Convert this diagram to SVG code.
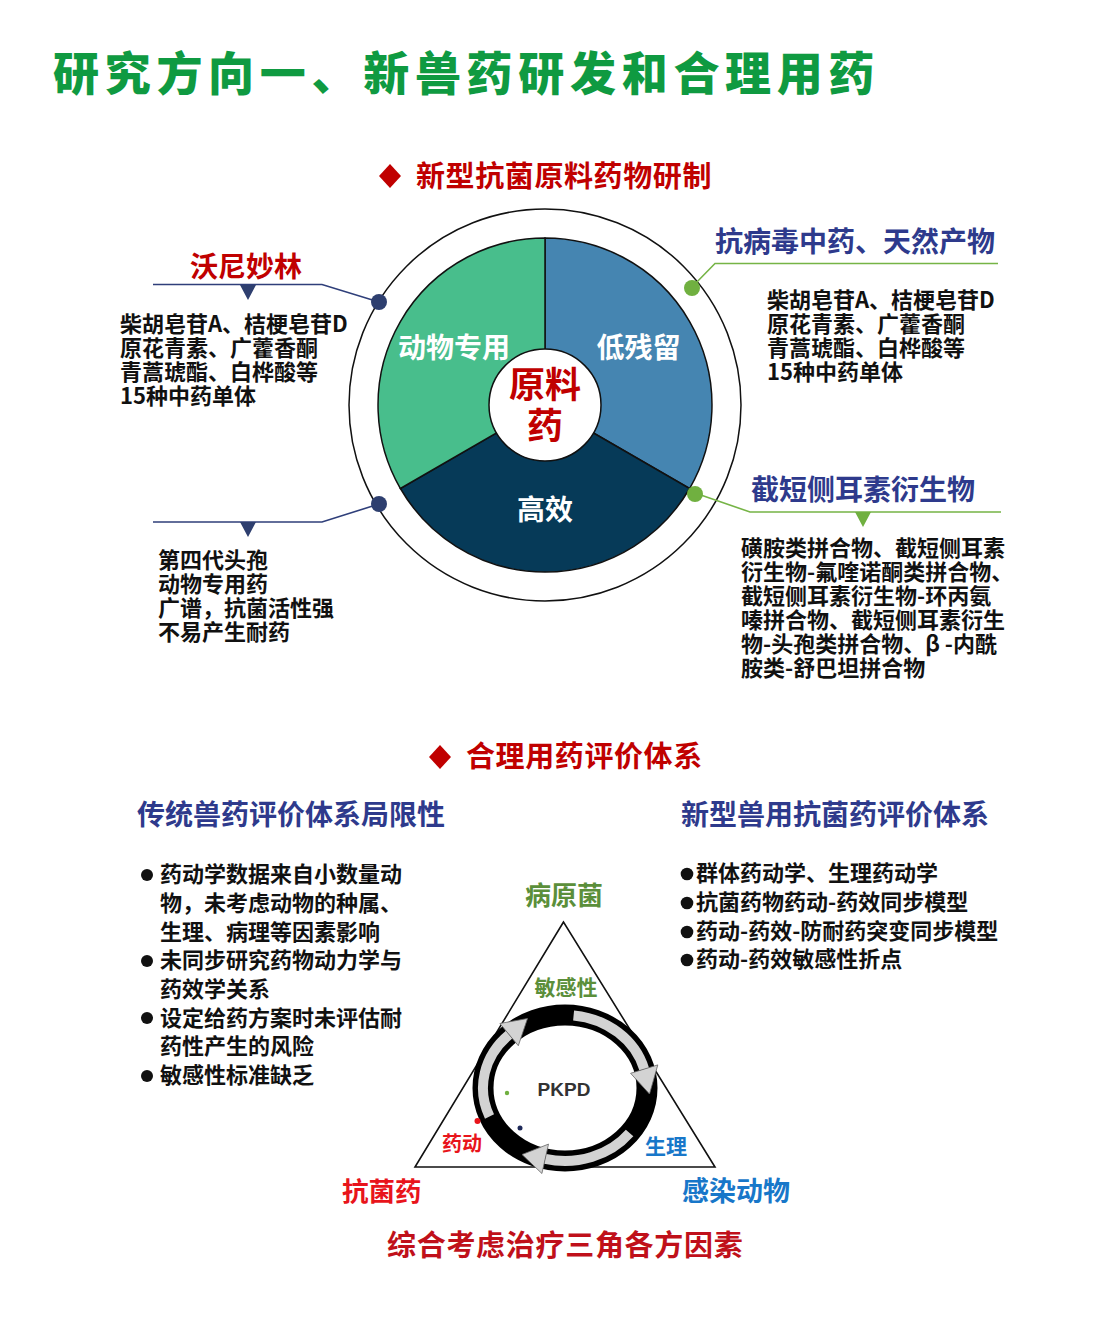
<svg xmlns="http://www.w3.org/2000/svg" width="1100" height="1318" viewBox="0 0 1100 1318">
<style>
text{font-family:"Noto Sans CJK SC","Noto Sans",sans-serif;font-weight:700}
.title{font-size:46px;font-weight:900;fill:#0F9A41;letter-spacing:5.7px}
.sec{font-size:29px;fill:#C00000;letter-spacing:0.6px}
.body{font-size:22px;fill:#111}
.blue{font-size:28px;fill:#2E3A8C}
.red28{font-size:28px;fill:#C00000}
.pie{font-size:28px;fill:#fff}
.core{font-size:36px;fill:#C00000}
.navyline{fill:none;stroke:#2F3F7A;stroke-width:1.6}
.greenline{fill:none;stroke:#76B446;stroke-width:1.6}
.navy{fill:#2E3F6F}
.green{fill:#70B040}
.seg{stroke:#111;stroke-width:1.5}
.gband{fill:none;stroke:#D3D3D3;stroke-width:10}
.ghead{fill:#D3D3D3;stroke:#666;stroke-width:0.8}
</style>
<rect width="1100" height="1318" fill="#fff"/>

<g id="title">
<text class="title" x="53" y="90">研究方向一、新兽药研发和合理用药</text>
</g>

<g id="section1-heading">
<polygon points="390,164 401,176 390,188 379,176" fill="#C00000"/>
<text class="sec" x="416" y="187">新型抗菌原料药物研制</text>
</g>

<g id="outer-ring">
<circle cx="545" cy="405" r="196" fill="none" stroke="#111" stroke-width="1.5"/>
</g>

<g id="seg-residue">
<path class="seg" d="M545,405 L545,238 A167,167 0 0,1 689.6,488.5 Z" fill="#4585B1"/>
<text class="pie" x="638.5" y="358" text-anchor="middle">低残留</text>
</g>
<g id="seg-efficacy">
<path class="seg" d="M545,405 L689.6,488.5 A167,167 0 0,1 400.4,488.5 Z" fill="#063A58"/>
<text class="pie" x="545" y="520" text-anchor="middle">高效</text>
</g>
<g id="seg-animal">
<path class="seg" d="M545,405 L400.4,488.5 A167,167 0 0,1 545,238 Z" fill="#48BE8C"/>
<text class="pie" x="454" y="358" text-anchor="middle">动物专用</text>
</g>
<g id="core">
<circle cx="545" cy="405" r="56" fill="#fff" stroke="#111" stroke-width="1.5"/>
<text class="core" text-anchor="middle"><tspan x="545" y="398">原料</tspan><tspan x="545" y="439">药</tspan></text>
</g>

<g id="connectors">
<polyline class="navyline" points="153,284.5 322,284.5 379,302"/>
<polyline class="navyline" points="153,522 322,522 379,504"/>
<polyline class="greenline" points="998,263.5 715,263.5 692,287"/>
<polyline class="greenline" points="1001,512 750,512 695,493"/>
<circle class="navy" cx="379" cy="302" r="8"/>
<circle class="navy" cx="379" cy="504" r="8"/>
<circle class="green" cx="692" cy="288" r="8"/>
<circle class="green" cx="695" cy="494" r="8"/>
</g>

<g id="node-valnemulin">
<text class="red28" x="246" y="277" text-anchor="middle">沃尼妙林</text>
<polygon class="navy" points="240,285 256,285 248,300"/>
<text class="body"><tspan x="120" y="332">柴胡皂苷A、桔梗皂苷D</tspan><tspan x="120" y="356">原花青素、广藿香酮</tspan><tspan x="120" y="380">青蒿琥酯、白桦酸等</tspan><tspan x="120" y="404">15种中药单体</tspan></text>
</g>

<g id="node-cephalosporin">
<polygon class="navy" points="240,522 256,522 248,537"/>
<text class="body"><tspan x="158" y="568">第四代头孢</tspan><tspan x="158" y="592">动物专用药</tspan><tspan x="158" y="616">广谱，抗菌活性强</tspan><tspan x="158" y="640">不易产生耐药</tspan></text>
</g>

<g id="node-antiviral">
<text class="blue" x="715" y="252">抗病毒中药、天然产物</text>
<text class="body"><tspan x="767" y="308">柴胡皂苷A、桔梗皂苷D</tspan><tspan x="767" y="332">原花青素、广藿香酮</tspan><tspan x="767" y="356">青蒿琥酯、白桦酸等</tspan><tspan x="767" y="380">15种中药单体</tspan></text>
</g>

<g id="node-pleuromutilin">
<text class="blue" x="751" y="500">截短侧耳素衍生物</text>
<polygon class="green" points="855,512 871,512 863,527"/>
<text class="body"><tspan x="741" y="556">磺胺类拼合物、截短侧耳素</tspan><tspan x="741" y="580">衍生物-氟喹诺酮类拼合物、</tspan><tspan x="741" y="604">截短侧耳素衍生物-环丙氨</tspan><tspan x="741" y="628">嗪拼合物、截短侧耳素衍生</tspan><tspan x="741" y="652">物-头孢类拼合物、β -内酰</tspan><tspan x="741" y="676">胺类-舒巴坦拼合物</tspan></text>
</g>

<g id="section2-heading">
<polygon points="440,745 451,757 440,769 429,757" fill="#C00000"/>
<text class="sec" x="466" y="767">合理用药评价体系</text>
</g>

<g id="traditional-system">
<text class="blue" x="137" y="825">传统兽药评价体系局限性</text>
<circle cx="147" cy="875" r="6" fill="#111"/>
<circle cx="147" cy="961" r="6" fill="#111"/>
<circle cx="147" cy="1018" r="6" fill="#111"/>
<circle cx="147" cy="1076" r="6" fill="#111"/>
<text class="body"><tspan x="160" y="882">药动学数据来自小数量动</tspan><tspan x="160" y="911">物，未考虑动物的种属、</tspan><tspan x="160" y="940">生理、病理等因素影响</tspan><tspan x="160" y="968">未同步研究药物动力学与</tspan><tspan x="160" y="997">药效学关系</tspan><tspan x="160" y="1026">设定给药方案时未评估耐</tspan><tspan x="160" y="1054">药性产生的风险</tspan><tspan x="160" y="1083">敏感性标准缺乏</tspan></text>
</g>

<g id="new-system">
<text class="blue" x="681" y="825">新型兽用抗菌药评价体系</text>
<circle cx="687" cy="874" r="6.3" fill="#111"/>
<circle cx="687" cy="903" r="6.3" fill="#111"/>
<circle cx="687" cy="932" r="6.3" fill="#111"/>
<circle cx="687" cy="960" r="6.3" fill="#111"/>
<text class="body"><tspan x="696" y="881">群体药动学、生理药动学</tspan><tspan x="696" y="910">抗菌药物药动-药效同步模型</tspan><tspan x="696" y="939">药动-药效-防耐药突变同步模型</tspan><tspan x="696" y="967">药动-药效敏感性折点</tspan></text>
</g>

<g id="pkpd-triangle">
<polygon points="563.5,922 415,1167 715,1167" fill="none" stroke="#111" stroke-width="1.6"/>
<ellipse cx="565" cy="1088" rx="82" ry="73" fill="none" stroke="#000" stroke-width="21"/>
<path class="gband" d="M573.6,1015.4 A82,73 0 0,1 644.2,1069.1"/>
<path class="gband" d="M629.6,1133 A82,73 0 0,1 545.2,1158.8"/>
<path class="gband" d="M489.5,1116.5 A82,73 0 0,1 509.1,1034.6"/>
<polygon class="ghead" points="657.8,1064.9 630.6,1073.3 649.5,1094"/>
<polygon class="ghead" points="541.9,1173.5 548.5,1144.1 522,1154.5"/>
<polygon class="ghead" points="499.9,1023.5 518.3,1045.7 527.5,1018.5"/>
<circle cx="507" cy="1093" r="2.2" fill="#70B040"/>
<circle cx="477.5" cy="1121" r="3" fill="#E8141B"/>
<circle cx="520" cy="1128" r="2.5" fill="#1F2A5A"/>
<text x="564" y="1096" text-anchor="middle" style="font-family:'Liberation Sans',Arial,sans-serif;font-size:19px;fill:#333">PKPD</text>
<text x="564" y="905" text-anchor="middle" style="font-size:26px;fill:#5B8F3A">病原菌</text>
<text x="566" y="995" text-anchor="middle" style="font-size:21px;fill:#5B8F3A">敏感性</text>
<text x="462" y="1151" text-anchor="middle" style="font-size:20px;fill:#E8141B">药动</text>
<text x="666" y="1154" text-anchor="middle" style="font-size:21px;fill:#1877C9">生理</text>
</g>

<g id="bottom-labels">
<text x="342" y="1201" style="font-size:26.5px;fill:#E8141B">抗菌药</text>
<text x="682" y="1201" style="font-size:27px;fill:#1877C9">感染动物</text>
<text x="387" y="1256" style="font-size:29px;fill:#C0101A;letter-spacing:0.7px">综合考虑治疗三角各方因素</text>
</g>
</svg>
